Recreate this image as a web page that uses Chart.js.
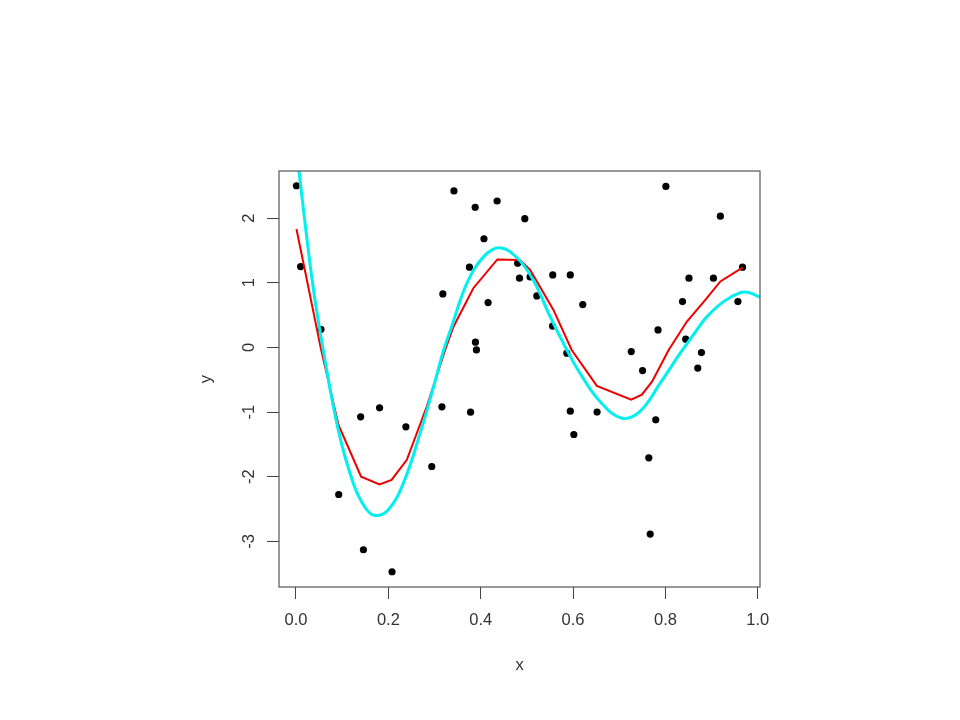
<!DOCTYPE html>
<html>
<head>
<meta charset="utf-8">
<script src="https://cdn.jsdelivr.net/npm/chart.js@4/dist/chart.umd.min.js"></script>
<style>
  html, body { margin: 0; padding: 0; background: #ffffff; }
  #wrap { width: 960px; height: 720px; }
</style>
</head>
<body>
<div id="wrap"><canvas id="c" width="960" height="720"></canvas></div>
<script>
// ---- data ----
const pointX = [0.001, 0.010, 0.054, 0.0925, 0.140, 0.146, 0.181, 0.208, 0.238, 0.294,
                0.316, 0.318, 0.342, 0.3756, 0.378, 0.388, 0.3886, 0.3907, 0.407, 0.416,
                0.4355, 0.480, 0.484, 0.4955, 0.507, 0.5215, 0.5555, 0.556, 0.5865, 0.594,
                0.594, 0.6017, 0.621, 0.652, 0.726, 0.7505, 0.764, 0.767, 0.779, 0.784,
                0.801, 0.837, 0.844, 0.851, 0.870, 0.878, 0.904, 0.919, 0.957, 0.967];
const pointY = [2.50, 1.25, 0.28, -2.275, -1.074, -3.13, -0.935, -3.47, -1.229, -1.842,
                -0.920, 0.827, 2.42, 1.24, -1.002, 2.167, 0.08, -0.04, 1.68, 0.693,
                2.264, 1.30, 1.07, 1.99, 1.09, 0.796, 0.33, 1.12, -0.09, 1.12,
                -0.986, -1.347, 0.662, -1.0, -0.065, -0.358, -1.708, -2.888, -1.12, 0.27,
                2.49, 0.708, 0.127, 1.07, -0.32, -0.08, 1.07, 2.03, 0.708, 1.24];

// red fitted line
const fitX = [0.001, 0.054, 0.092, 0.141, 0.181, 0.207, 0.240, 0.283, 0.323, 0.341,
              0.384, 0.436, 0.485, 0.507, 0.5575, 0.597, 0.6515, 0.726, 0.749, 0.771,
              0.807, 0.8465, 0.886, 0.919, 0.967];
const fitY = [1.83, -0.02, -1.20, -2.00, -2.12, -2.05, -1.74, -0.92, -0.04, 0.32,
              0.915, 1.36, 1.35, 1.20, 0.58, -0.04, -0.595, -0.81, -0.73, -0.53,
              -0.04, 0.40, 0.73, 1.02, 1.233];

// cyan true curve
const trueX = [0.0, 0.035, 0.059, 0.0917, 0.124, 0.150, 0.171, 0.200, 0.2325, 0.2687,
               0.2975, 0.319, 0.337, 0.370, 0.406, 0.4405, 0.478, 0.514, 0.550, 0.5865,
               0.615, 0.6587, 0.7057, 0.745, 0.789, 0.832, 0.868, 0.890, 0.926, 0.962,
               0.980, 1.002, 1.01];
const trueY = [3.12, 1.04, -0.04, -1.28, -2.10, -2.48, -2.60, -2.51, -2.10, -1.33,
               -0.62, -0.06, 0.32, 0.99, 1.40, 1.54, 1.39, 1.04, 0.48, -0.04,
               -0.40, -0.84, -1.095, -0.99, -0.55, -0.09, 0.27, 0.476, 0.708, 0.847,
               0.85, 0.785, 0.76];

const xTicks = [0.0, 0.2, 0.4, 0.6, 0.8, 1.0];
const yTicks = [-3, -2, -1, 0, 1, 2];
const xTitle = 'x';
const yTitle = 'y';

// ---- build chart ----
const zip = (xs, ys) => xs.map((x, i) => ({ x: x, y: ys[i] }));

const boxPlugin = {
  id: 'box',
  afterDatasetsDraw(chart) {
    const { ctx, chartArea: a } = chart;
    ctx.save();
    ctx.strokeStyle = '#555555';
    ctx.lineWidth = 1.2;
    ctx.strokeRect(a.left, a.top, a.right - a.left, a.bottom - a.top);
    ctx.restore();
  }
};

const FONT = { family: '"Liberation Sans", Arial, sans-serif', size: 16.5 };

new Chart(document.getElementById('c'), {
  type: 'scatter',
  data: {
    datasets: [
      {
        type: 'line', label: 'true', data: zip(trueX, trueY),
        borderColor: '#00f0f0', borderWidth: 3, pointRadius: 0, tension: 0.4,
        fill: false, order: 0, clip: 0
      },
      {
        type: 'line', label: 'fit', data: zip(fitX, fitY),
        borderColor: '#ee0000', borderWidth: 2, pointRadius: 0, tension: 0,
        fill: false, order: 1, clip: 0
      },
      {
        type: 'scatter', label: 'data', data: zip(pointX, pointY),
        backgroundColor: '#000000', borderColor: '#000000', pointRadius: 3.6,
        borderWidth: 0, order: 2, clip: 0
      }
    ]
  },
  options: {
    responsive: false,
    animation: false,
    events: [],
    layout: { padding: { left: 190, right: 200, top: 171, bottom: 40 } },
    plugins: { legend: { display: false }, tooltip: { enabled: false } },
    scales: {
      x: {
        type: 'linear', min: -0.0368, max: 1.0048,
        afterBuildTicks: s => { s.ticks = xTicks.map(v => ({ value: v })); },
        afterFit: s => { s.height = 93; },
        border: { display: false },
        grid: { drawOnChartArea: false, drawTicks: true, tickLength: 12, color: '#444444', lineWidth: 1 },
        ticks: { color: '#333333', font: FONT, padding: 12, maxRotation: 0,
                 callback: v => Number(v).toFixed(1) },
        title: { display: true, text: xTitle, color: '#333333', font: FONT, padding: { top: 0, bottom: 5 } }
      },
      y: {
        type: 'linear', min: -3.706, max: 2.728,
        afterBuildTicks: s => { s.ticks = yTicks.map(v => ({ value: v })); },
        afterFit: s => { s.width = 89; },
        border: { display: false },
        grid: { drawOnChartArea: false, drawTicks: true, tickLength: 12, color: '#444444', lineWidth: 1 },
        ticks: { color: '#333333', font: FONT, padding: 10, minRotation: 90, maxRotation: 90,
                 crossAlign: 'center', callback: v => String(v) },
        title: { display: true, text: yTitle, color: '#333333', font: FONT, padding: { top: 7, bottom: 0 } }
      }
    }
  },
  plugins: [boxPlugin]
});
</script>
</body>
</html>
